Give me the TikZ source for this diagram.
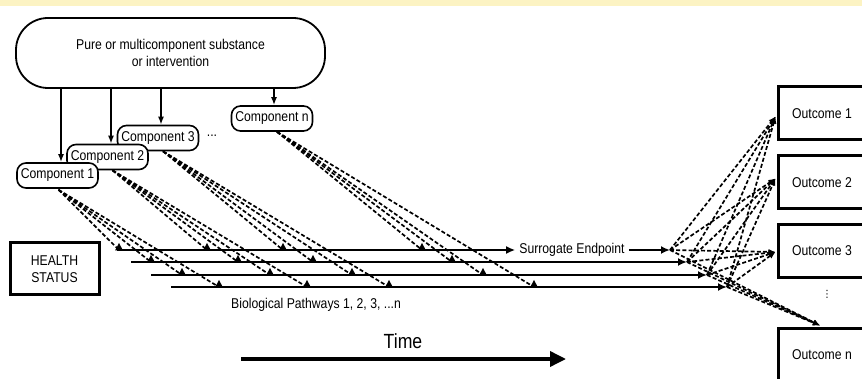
\documentclass[tikz,border=0pt]{standalone}
\usepackage{fontspec}
\setmainfont{Liberation Sans}[FakeStretch=0.86]
\newfontfamily\dejavu{DejaVu Sans}
\usetikzlibrary{arrows.meta,calc}
\definecolor{band}{HTML}{FCF3C3}
\newcommand\trimark[1]{\fill (#1) ++(-4,0.5) -- ++(4,-7.5) -- ++(4,7.5) -- cycle;}
\begin{document}
\begin{tikzpicture}[x=1pt,y=-1pt,
  txt/.style={font=\fontsize{14.2}{17}\selectfont},
  comp/.style={draw,line width=1.6pt,rounded corners=9pt,fill=white,minimum width=81pt,minimum height=25pt,inner sep=0pt,txt},
  outbox/.style={draw,line width=3pt,fill=white,minimum width=88pt,minimum height=53pt,inner sep=0pt,txt},
  downarr/.style={line width=1.5pt,-{Latex[length=8pt,width=6pt]}},
  pway/.style={line width=1.8pt,-{Latex[length=9pt,width=8pt]}},
  dsh/.style={line width=1.7pt,dash pattern=on 4pt off 2.2pt},
  dsharr/.style={dsh,-{Latex[length=7pt,width=6pt]}}]
\useasboundingbox (0,0) rectangle (862,379);
\clip (0,0) rectangle (862,379);
\fill[band] (0,0) rectangle (862,6.5);

% source
\node[draw,line width=1.8pt,rounded corners=32pt,minimum width=309pt,minimum height=70pt,align=center,txt] (oval) at (170.5,53) {Pure or multicomponent substance\\or intervention};

% components
\node[comp] (Cn) at (272,118.5) {Component n};
\node[comp] (C3) at (158,138) {Component 3};
\node[comp] (C2) at (107.5,157) {Component 2};
\node[comp] (C1) at (57.5,175.5) {Component 1};
\node[txt] (dots) at (212,136) {...};

\coordinate (a1) at ($(C1.north)+(3.5,0)$);
\coordinate (a2) at ($(C2.north)+(3.5,0)$);
\coordinate (a3) at ($(C3.north)+(3,0)$);
\coordinate (an) at ($(Cn.north)+(2,0)$);
\foreach \a in {a1,a2,a3,an}{\draw[downarr] (\a |- oval.south) -- (\a);}

% health status
\node[draw,line width=3pt,minimum width=89pt,minimum height=52pt,align=center,font=\fontsize{14.2}{16.5}\selectfont] (health) at (54.5,269) {HEALTH\\STATUS};

% pathways
\coordinate (S1) at (117,250); \coordinate (E1) at (670,250);
\coordinate (S2) at (131,262); \coordinate (E2) at (687,262);
\coordinate (S3) at (151,275); \coordinate (E3) at (707,275);
\coordinate (S4) at (171,287); \coordinate (E4) at (727,287);

% dashed component influences
\coordinate (s-C1) at ($(C1.south)+(1,1)$);
\coordinate (s-C2) at ($(C2.south)+(5,0)$);
\coordinate (s-C3) at ($(C3.south)+(5,0)$);
\coordinate (s-Cn) at ($(Cn.south)+(5,0)$);
\foreach \c/\xa/\xb/\xc/\xd in {C1/119/151/182/219,C2/207/238/270/307,C3/283/313/352/389,Cn/422/452/483/534}{
  \coordinate (\c-1) at (\xa,250);
  \coordinate (\c-2) at (\xb,262);
  \coordinate (\c-3) at (\xc,275);
  \coordinate (\c-4) at (\xd,287);
  \foreach \k in {1,2,3,4}{\draw[dsh] (s-\c) -- (\c-\k);}
}

\node[txt,inner sep=4pt] (surr) at (572,250) {Surrogate Endpoint};
\draw[pway] (S1) -- (surr.west);
\draw[pway] (surr.east) -- (E1);
\draw[pway] (S2) -- (E2);
\draw[pway] (S3) -- (E3);
\draw[pway] (S4) -- (E4);

\foreach \c in {C1,C2,C3,Cn}{\foreach \k in {1,2,3,4}{\trimark{\c-\k}}}

\node[txt] (bio) at (316,305) {Biological Pathways 1, 2, 3, ...n};

% outcomes
\node[outbox] (O1) at (822,113.5) {Outcome 1};
\node[outbox] (O2) at (822,182.5) {Outcome 2};
\node[outbox] (O3) at (822,251) {Outcome 3};
\node[outbox] (On) at (822,354.5) {Outcome n};
\node[font=\dejavu\fontsize{10}{10}\selectfont,inner sep=0pt] (vd) at (827,294) {⋮};

\coordinate (T1) at ($(O1.west)+(-1,3)$);
\coordinate (T2) at ($(O2.west)+(-1,-4)$);
\coordinate (T3) at ($(O3.west)+(-1,1)$);
\coordinate (Tn) at ($(On.north)+(-2,-1)$);
\foreach \e in {E1,E2,E3,E4}{\foreach \t in {T1,T2,T3,Tn}{\draw[dsharr] (\e) -- (\t);}}

% time
\coordinate (t0) at (241,359);
\coordinate (t1) at (566,359);
\draw[line width=3.5pt,-{Triangle[length=16pt,width=15pt]}] (t0) -- (t1);
\node[font=\fontsize{20.5}{24}\selectfont] (time) at (403,341) {Time};
\end{tikzpicture}
\end{document}
